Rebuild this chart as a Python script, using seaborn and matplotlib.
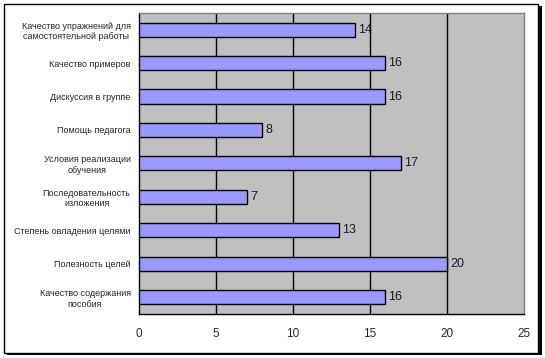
import matplotlib
matplotlib.use("Agg")
import matplotlib.pyplot as plt
from matplotlib.patches import Rectangle
import numpy as np
import pandas as pd
import seaborn as sns

# data, top to bottom as shown
categories = [
    "Качество упражнений для\nсамостоятельной работы",
    "Качество примеров",
    "Дискуссия в группе",
    "Помощь педагога",
    "Условия реализации\nобучения",
    "Последовательность\nизложения",
    "Степень овладения целями",
    "Полезность целей",
    "Качество содержания\nпособия",
]
values = [14, 16, 16, 8, 17, 7, 13, 20, 16]
x_ticks = [0, 5, 10, 15, 20, 25]

sns.set_style("white")
plt.rcParams["font.family"] = ["Liberation Sans", "DejaVu Sans"]

df = pd.DataFrame({"category": categories, "value": values})

fig = plt.figure(figsize=(5.45, 3.58), dpi=100)

# outer frame with shadow
fig.patches.append(Rectangle((0.012, 0.008), 0.982, 0.976, transform=fig.transFigure,
                             facecolor="black", edgecolor="none", zorder=0))
fig.patches.append(Rectangle((0.007, 0.014), 0.981, 0.974, transform=fig.transFigure,
                             facecolor="white", edgecolor="black", linewidth=1, zorder=1))

ax = fig.add_axes([0.255, 0.123, 0.7065, 0.841])
ax.set_zorder(2)
ax.set_facecolor("#C0C0C0")

sns.barplot(data=df, x="value", y="category", orient="h", color="#9999FF",
            saturation=1, edgecolor="black", linewidth=1, width=0.42, ax=ax, zorder=3)

for i, v in enumerate(values):
    ax.text(v + 0.2, i, str(v), va="center", ha="left", fontsize=9, color="#1a1a2a", zorder=4)

ax.set_xlim(0, 25)
ax.set_ylim(len(categories) - 0.5, -0.5)
ax.set_xticks(x_ticks)
ax.set_xticklabels([str(t) for t in x_ticks], fontsize=8.5)
ax.set_xlabel("")
ax.set_ylabel("")
ax.set_yticks(range(len(categories)))
ax.set_yticklabels(categories, fontsize=6.5, multialignment="center")
ax.tick_params(axis="y", which="major", length=0, pad=6)
ax.set_yticks(np.arange(-0.5, len(categories), 1), minor=True)
ax.tick_params(axis="y", which="minor", length=4, width=1, color="black", direction="out")
ax.tick_params(axis="x", which="major", length=4, width=1, color="black", direction="out", pad=6)

for t in x_ticks[1:-1]:
    ax.axvline(t, color="black", linewidth=1, zorder=1)

ax.spines["left"].set_color("black")
ax.spines["bottom"].set_color("black")
ax.spines["top"].set_color("#808080")
ax.spines["right"].set_color("#808080")
for s in ax.spines.values():
    s.set_linewidth(1)

fig.savefig("out.png", dpi=100)
